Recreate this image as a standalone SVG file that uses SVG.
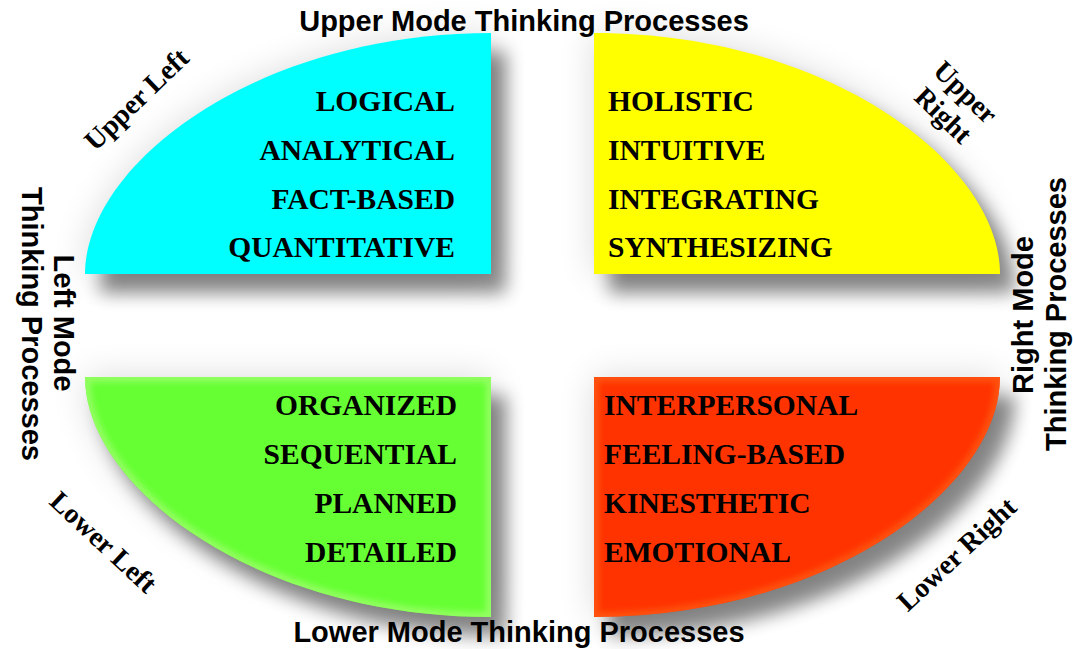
<svg xmlns="http://www.w3.org/2000/svg" width="1073" height="649" viewBox="0 0 1073 649">
  <style>
    .q { font-family: "Liberation Serif", "Times New Roman", serif; font-weight: bold; font-size: 29.5px; fill: #000; }
    .qe { text-anchor: end; }
    .c { font-family: "Liberation Serif", "Times New Roman", serif; font-weight: bold; font-size: 28px; fill: #000; text-anchor: middle; }
    .h { font-family: "Liberation Sans", Arial, sans-serif; font-weight: bold; font-size: 29px; fill: #000; text-anchor: middle; }
  </style>
  <defs>
    <path id="pUL" d="M 491 274 L 85 274 C 85 164 256 33 491 33 Z"/>
    <path id="pUR" d="M 594 274 L 1000 274 C 1000 164 829 33 594 33 Z"/>
    <path id="pLL" d="M 491 377 L 85 377 C 85 487 256 617 491 617 Z"/>
    <path id="pLR" d="M 594 377 L 1000 377 C 1000 487 829 617 594 617 Z"/>
    <filter id="blurS" x="-20%" y="-30%" width="140%" height="160%"><feGaussianBlur stdDeviation="9"/></filter>
    <filter id="blurG" x="-30%" y="-40%" width="160%" height="180%"><feGaussianBlur stdDeviation="18"/></filter>
    <filter id="soft" x="-10%" y="-10%" width="120%" height="120%"><feGaussianBlur stdDeviation="3"/></filter>
    <clipPath id="cLL"><use href="#pLL"/></clipPath>
    <clipPath id="cLR"><use href="#pLR"/></clipPath>
  </defs>
  <rect width="1073" height="649" fill="#fff"/>
  <g id="shadows">
    <g filter="url(#blurG)" fill="#000" opacity="0.14">
      <use href="#pUL"/><use href="#pUR"/><use href="#pLL"/><use href="#pLR"/>
    </g>
    <g filter="url(#blurS)" fill="#000" opacity="0.45" transform="translate(15,19)">
      <use href="#pUL"/><use href="#pUR"/><use href="#pLL"/><use href="#pLR"/>
    </g>
  </g>
  <g id="upper-left">
    <use href="#pUL" fill="#00ffff"/>
    <text class="q qe" x="455" y="111">LOGICAL</text>
    <text class="q qe" x="455" y="160">ANALYTICAL</text>
    <text class="q qe" x="455" y="209">FACT-BASED</text>
    <text class="q qe" x="455" y="257">QUANTITATIVE</text>
  </g>
  <g id="upper-right">
    <use href="#pUR" fill="#ffff00"/>
    <text class="q" x="608" y="111">HOLISTIC</text>
    <text class="q" x="608" y="160">INTUITIVE</text>
    <text class="q" x="608" y="209">INTEGRATING</text>
    <text class="q" x="608" y="257">SYNTHESIZING</text>
  </g>
  <g id="lower-left">
    <use href="#pLL" fill="#66ff33"/>
    <use href="#pLL" fill="none" stroke="#a0ff70" stroke-width="10" opacity="0.8" filter="url(#soft)" clip-path="url(#cLL)"/>
    <text class="q qe" x="457" y="415">ORGANIZED</text>
    <text class="q qe" x="457" y="464">SEQUENTIAL</text>
    <text class="q qe" x="457" y="513">PLANNED</text>
    <text class="q qe" x="457" y="562">DETAILED</text>
  </g>
  <g id="lower-right">
    <use href="#pLR" fill="#ff3300"/>
    <use href="#pLR" fill="none" stroke="#ff6214" stroke-width="10" opacity="0.7" filter="url(#soft)" clip-path="url(#cLR)"/>
    <text class="q" x="604" y="415">INTERPERSONAL</text>
    <text class="q" x="604" y="464">FEELING-BASED</text>
    <text class="q" x="604" y="513">KINESTHETIC</text>
    <text class="q" x="604" y="562">EMOTIONAL</text>
  </g>
  <g id="connectors"/>
  <g id="mode-labels">
    <text class="h" x="524" y="31">Upper Mode Thinking Processes</text>
    <text class="h" x="519" y="642">Lower Mode Thinking Processes</text>
    <g transform="translate(54,323) rotate(90)"><text class="h" x="0" y="0">Left Mode</text></g>
    <g transform="translate(22,324) rotate(90)"><text class="h" x="0" y="0">Thinking Processes</text></g>
    <g transform="translate(1033,315) rotate(-90)"><text class="h" x="0" y="0">Right Mode</text></g>
    <g transform="translate(1066,314) rotate(-90)"><text class="h" x="0" y="0">Thinking Processes</text></g>
  </g>
  <g id="corner-labels">
    <g transform="translate(143,106) rotate(-44)"><text class="c" x="0" y="0">Upper Left</text></g>
    <g transform="translate(948,110.5) rotate(44)">
      <text class="c" x="0" y="-16">Upper</text>
      <text class="c" x="0" y="16">Right</text>
    </g>
    <g transform="translate(97,549) rotate(43)"><text class="c" x="0" y="0">Lower Left</text></g>
    <g transform="translate(963,561) rotate(-43)"><text class="c" x="0" y="0">Lower Right</text></g>
  </g>
</svg>
